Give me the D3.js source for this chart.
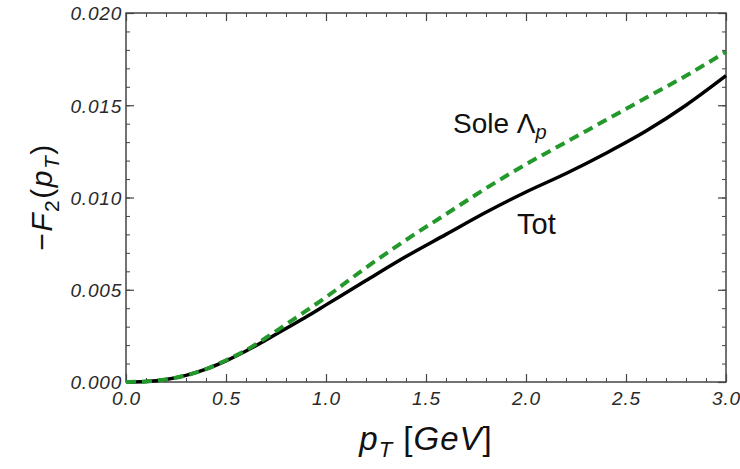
<!DOCTYPE html>
<html>
<head>
<meta charset="utf-8">
<script src="https://cdn.jsdelivr.net/npm/d3@7"></script>
<style>
  html, body { margin: 0; padding: 0; background: #fff; }
  svg { display: block; font-family: "Liberation Sans", Arial, sans-serif; }
</style>
</head>
<body>
<svg id="chart" width="740" height="469"></svg>
<script>
// ---- data ----
const pT = [0, 0.1, 0.2, 0.3, 0.4, 0.5, 0.6, 0.7, 0.8, 0.9, 1.0, 1.2, 1.4, 1.6, 1.8, 2.0, 2.2, 2.4, 2.6, 2.8, 3.0];
const tot = [0, 0.00003, 0.00014, 0.00036, 0.0007, 0.00115, 0.00168, 0.00228, 0.0029, 0.00352, 0.00418, 0.0055, 0.0068, 0.0080, 0.0092, 0.0103, 0.0113, 0.0124, 0.0136, 0.0150, 0.0166];
const sole = [0, 0.00003, 0.00014, 0.00036, 0.0007, 0.00118, 0.00172, 0.0024, 0.00312, 0.00385, 0.0046, 0.0062, 0.0077, 0.0091, 0.0105, 0.0118, 0.0130, 0.0142, 0.0154, 0.0166, 0.0179];
const xTicks = [0, 0.5, 1.0, 1.5, 2.0, 2.5, 3.0];
const yTicks = [0, 0.005, 0.010, 0.015, 0.020];
const xMinor = d3.range(0, 3.0001, 0.1);
const yMinor = d3.range(0, 0.02001, 0.001);

const svg = d3.select("#chart");
const L = 126, R = 726, T = 13, B = 382;
const x = d3.scaleLinear().domain([0, 3]).range([L, R]);
const y = d3.scaleLinear().domain([0, 0.02]).range([B, T]);

const frameColor = "#444";
const labelColor = "#2a2a2a";

// minor ticks
function minorAxis(axisFn, scale, vals, pos) {
  const g = svg.append("g").attr("transform", pos)
    .call(axisFn(scale).tickValues(vals).tickSize(-4).tickFormat(""));
  g.select(".domain").remove();
  g.selectAll("line").attr("stroke", frameColor).attr("stroke-width", 1);
}
minorAxis(d3.axisBottom, x, xMinor, `translate(0,${B})`);
minorAxis(d3.axisTop, x, xMinor, `translate(0,${T})`);
minorAxis(d3.axisLeft, y, yMinor, `translate(${L},0)`);
minorAxis(d3.axisRight, y, yMinor, `translate(${R},0)`);

// major ticks with labels
const gx = svg.append("g").attr("transform", `translate(0,${B})`)
  .call(d3.axisBottom(x).tickValues(xTicks).tickSize(-8).tickFormat(d3.format(".1f")));
gx.select(".domain").remove();
gx.selectAll("line").attr("stroke", frameColor).attr("stroke-width", 1.2);
gx.selectAll("text").attr("font-size", 19).attr("font-style", "italic")
  .attr("letter-spacing", "0.8px").attr("fill", labelColor).attr("y", 23).attr("dy", 0);

const gxt = svg.append("g").attr("transform", `translate(0,${T})`)
  .call(d3.axisTop(x).tickValues(xTicks).tickSize(-8).tickFormat(""));
gxt.select(".domain").remove();
gxt.selectAll("line").attr("stroke", frameColor).attr("stroke-width", 1.2);

const gy = svg.append("g").attr("transform", `translate(${L},0)`)
  .call(d3.axisLeft(y).tickValues(yTicks).tickSize(-8).tickPadding(4).tickFormat(d3.format(".3f")));
gy.select(".domain").remove();
gy.selectAll("line").attr("stroke", frameColor).attr("stroke-width", 1.2);
gy.selectAll("text").attr("font-size", 19).attr("font-style", "italic")
  .attr("letter-spacing", "0.8px").attr("fill", labelColor).attr("dy", "0.36em");

const gyr = svg.append("g").attr("transform", `translate(${R},0)`)
  .call(d3.axisRight(y).tickValues(yTicks).tickSize(-8).tickFormat(""));
gyr.select(".domain").remove();
gyr.selectAll("line").attr("stroke", frameColor).attr("stroke-width", 1.2);

// frame
svg.append("rect").attr("x", L).attr("y", T).attr("width", R - L).attr("height", B - T)
  .attr("fill", "none").attr("stroke", frameColor).attr("stroke-width", 1.5);

// curves
const line = d3.line().x((d, i) => x(pT[i])).y(d => y(d)).curve(d3.curveMonotoneX);
svg.append("path").datum(tot).attr("d", line)
  .attr("fill", "none").attr("stroke", "#000").attr("stroke-width", 3.5);
svg.append("path").datum(sole).attr("d", line)
  .attr("fill", "none").attr("stroke", "#22992a").attr("stroke-width", 4)
  .attr("stroke-dasharray", "10,6");

// curve labels
const sl = svg.append("text").attr("x", 453).attr("y", 133).attr("font-size", 28).attr("fill", "#111");
sl.append("tspan").text("Sole \u039B");
sl.append("tspan").text("p").attr("font-style", "italic").attr("font-size", 20).attr("dy", 6);

svg.append("text").attr("x", 517).attr("y", 234).attr("font-size", 29).attr("fill", "#111").text("Tot");

// x axis title
const xt = svg.append("text").attr("x", 426).attr("y", 450).attr("text-anchor", "middle")
  .attr("font-size", 33).attr("fill", "#111").attr("letter-spacing", "1px");
xt.append("tspan").text("p").attr("font-style", "italic");
xt.append("tspan").text("T").attr("font-style", "italic").attr("font-size", 22).attr("dy", 7);
xt.append("tspan").text(" [").attr("dy", -7);
xt.append("tspan").text("GeV").attr("font-style", "italic");
xt.append("tspan").text("]");

// y axis title
const yt = svg.append("text").attr("transform", "translate(52,197) rotate(-90)")
  .attr("text-anchor", "middle").attr("font-size", 30).attr("fill", "#111").attr("letter-spacing", "1.5px");
yt.append("tspan").text("\u2212");
yt.append("tspan").text("F").attr("font-style", "italic");
yt.append("tspan").text("2").attr("font-size", 21).attr("dy", 7);
yt.append("tspan").text("(").attr("dy", -7);
yt.append("tspan").text("p").attr("font-style", "italic");
yt.append("tspan").text("T").attr("font-style", "italic").attr("font-size", 21).attr("dy", 7);
yt.append("tspan").text(")").attr("dy", -7);
</script>
</body>
</html>
